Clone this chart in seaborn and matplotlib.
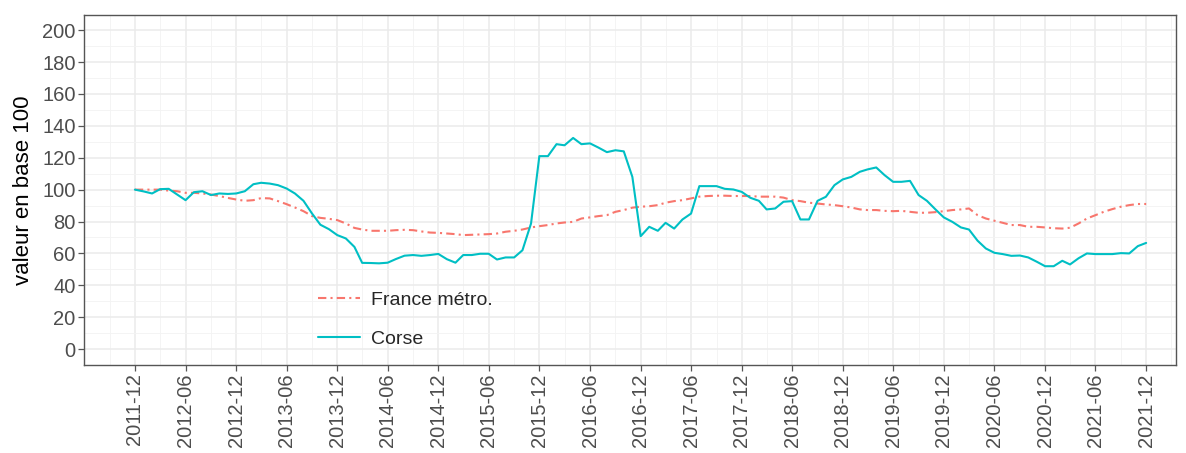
import numpy as np
import pandas as pd
import matplotlib
matplotlib.use("Agg")
import matplotlib.pyplot as plt
import matplotlib.dates as mdates
import seaborn as sns

# ─── Data (monthly, 2011-12 .. 2021-12, base 100) ─────────────

months = pd.date_range("2011-12-01", "2021-12-01", freq="MS")
tick_months = pd.date_range("2011-12-01", "2021-12-01", freq="6MS")

france = [
    100.0, 100.0, 100.0, 100.0, 99.4, 99.0, 98.0, 98.0, 97.6, 96.9,
    96.0, 94.8, 93.8, 93.0, 93.4, 94.7, 94.5, 92.8, 90.9, 88.8,
    86.5, 83.4, 82.3, 81.7, 80.9, 78.8, 76.0, 75.0, 74.2, 74.2,
    74.2, 74.6, 74.8, 74.6, 73.8, 73.1, 72.9, 72.5, 72.1, 71.5,
    71.7, 71.9, 72.1, 72.5, 73.6, 74.2, 75.0, 76.3, 77.1, 77.8,
    78.8, 79.4, 79.8, 81.9, 82.6, 83.4, 84.0, 86.1, 87.2, 88.7,
    89.3, 89.6, 90.3, 91.8, 92.8, 93.4, 94.5, 95.6, 96.0, 96.2,
    96.2, 96.0, 96.0, 96.0, 95.6, 95.6, 95.6, 95.0, 93.4, 92.8,
    91.8, 91.3, 90.7, 90.3, 89.6, 88.8, 87.6, 87.2, 87.2, 86.7,
    86.5, 86.7, 86.1, 85.5, 85.5, 85.9, 86.5, 87.2, 87.6, 88.2,
    84.0, 81.9, 80.5, 79.2, 77.8, 77.8, 76.7, 76.7, 76.3, 75.8,
    75.6, 76.1, 78.8, 81.9, 84.0, 86.1, 87.8, 89.3, 90.3, 91.0,
    91.0,
]

corse = [
    100.0, 98.9, 97.6, 100.3, 100.5, 97.0, 93.4, 98.4, 99.0, 96.6,
    97.6, 97.3, 97.6, 99.0, 103.4, 104.3, 103.8, 102.8, 100.7, 97.6,
    93.0, 85.0, 78.0, 75.2, 71.5, 69.4, 64.1, 54.1, 54.0, 53.8,
    54.2, 56.5, 58.6, 59.0, 58.5, 59.0, 59.7, 56.4, 54.2, 59.0,
    59.0, 59.8, 59.8, 56.2, 57.5, 57.5, 62.0, 78.8, 121.0, 121.0,
    128.5, 127.8, 132.4, 128.5, 129.0, 126.4, 123.5, 124.7, 124.0, 108.0,
    70.8, 76.7, 74.2, 79.2, 75.6, 81.3, 85.0, 102.2, 102.2, 102.2,
    100.5, 100.1, 98.6, 94.9, 93.0, 87.6, 88.2, 92.4, 92.8, 81.3,
    81.3, 93.0, 95.5, 102.8, 106.4, 108.0, 111.2, 112.7, 113.9, 109.1,
    104.9, 104.9, 105.5, 96.6, 93.0, 87.6, 82.6, 79.8, 76.3, 75.0,
    68.0, 63.1, 60.4, 59.6, 58.5, 58.7, 57.5, 54.8, 52.0, 52.0,
    55.4, 53.1, 57.0, 60.0, 59.6, 59.6, 59.6, 60.2, 60.0, 64.6,
    66.6,
]

series_names = ["France métro.", "Corse"]
series_colors = ["#F8766D", "#00BFC4"]

df = pd.concat([
    pd.DataFrame({"date": months, "valeur": france, "zone": series_names[0]}),
    pd.DataFrame({"date": months, "valeur": corse, "zone": series_names[1]}),
])

# ─── Plot ─────────────────────────────────────────────────────

sns.set_theme(style="whitegrid")
plt.rcParams["font.family"] = ["Liberation Sans", "DejaVu Sans"]

fig = plt.figure(figsize=(11.86, 4.53), dpi=100)
ax = fig.add_axes([0.0708, 0.194, 0.9208, 0.773])

sns.lineplot(
    data=df, x="date", y="valeur", hue="zone", style="zone",
    hue_order=series_names, style_order=series_names,
    palette=series_colors,
    dashes={series_names[0]: (4, 2, 1, 2), series_names[1]: ""},
    linewidth=1.5, ax=ax,
)

ax.set_xlim(pd.Timestamp("2011-05-31"), pd.Timestamp("2022-03-19"))
ax.set_ylim(-10, 209.5)
ax.set_yticks(range(0, 201, 20))
ax.set_yticks(range(10, 201, 20), minor=True)

ax.set_xticks(tick_months)
ax.xaxis.set_minor_locator(mdates.MonthLocator(bymonth=[3, 9]))
ax.xaxis.set_major_formatter(mdates.DateFormatter("%Y-%m"))
for lbl in ax.get_xticklabels():
    lbl.set_rotation(90)

ax.grid(True, which="major", color="#EBEBEB", linewidth=1.1)
ax.grid(True, which="minor", color="#F3F3F3", linewidth=0.6)
ax.set_axisbelow(True)

for side in ax.spines.values():
    side.set_color("#555555")
    side.set_linewidth(1.0)

ax.tick_params(axis="both", which="major", length=4, width=0.9, color="#555555",
               labelsize=14.5, labelcolor="#4D4D4D", bottom=True, left=True, pad=2)
ax.tick_params(axis="both", which="minor", length=0)

ax.set_xlabel("")
ax.set_ylabel("valeur en base 100", fontsize=16, color="black", labelpad=6)

leg = ax.legend(
    title=None, frameon=False, fontsize=14,
    loc="center left", bbox_to_anchor=(0.198, 0.13),
    handlelength=2.2, labelspacing=1.1, handletextpad=0.55,
)

fig.savefig("out.png", dpi=100)
